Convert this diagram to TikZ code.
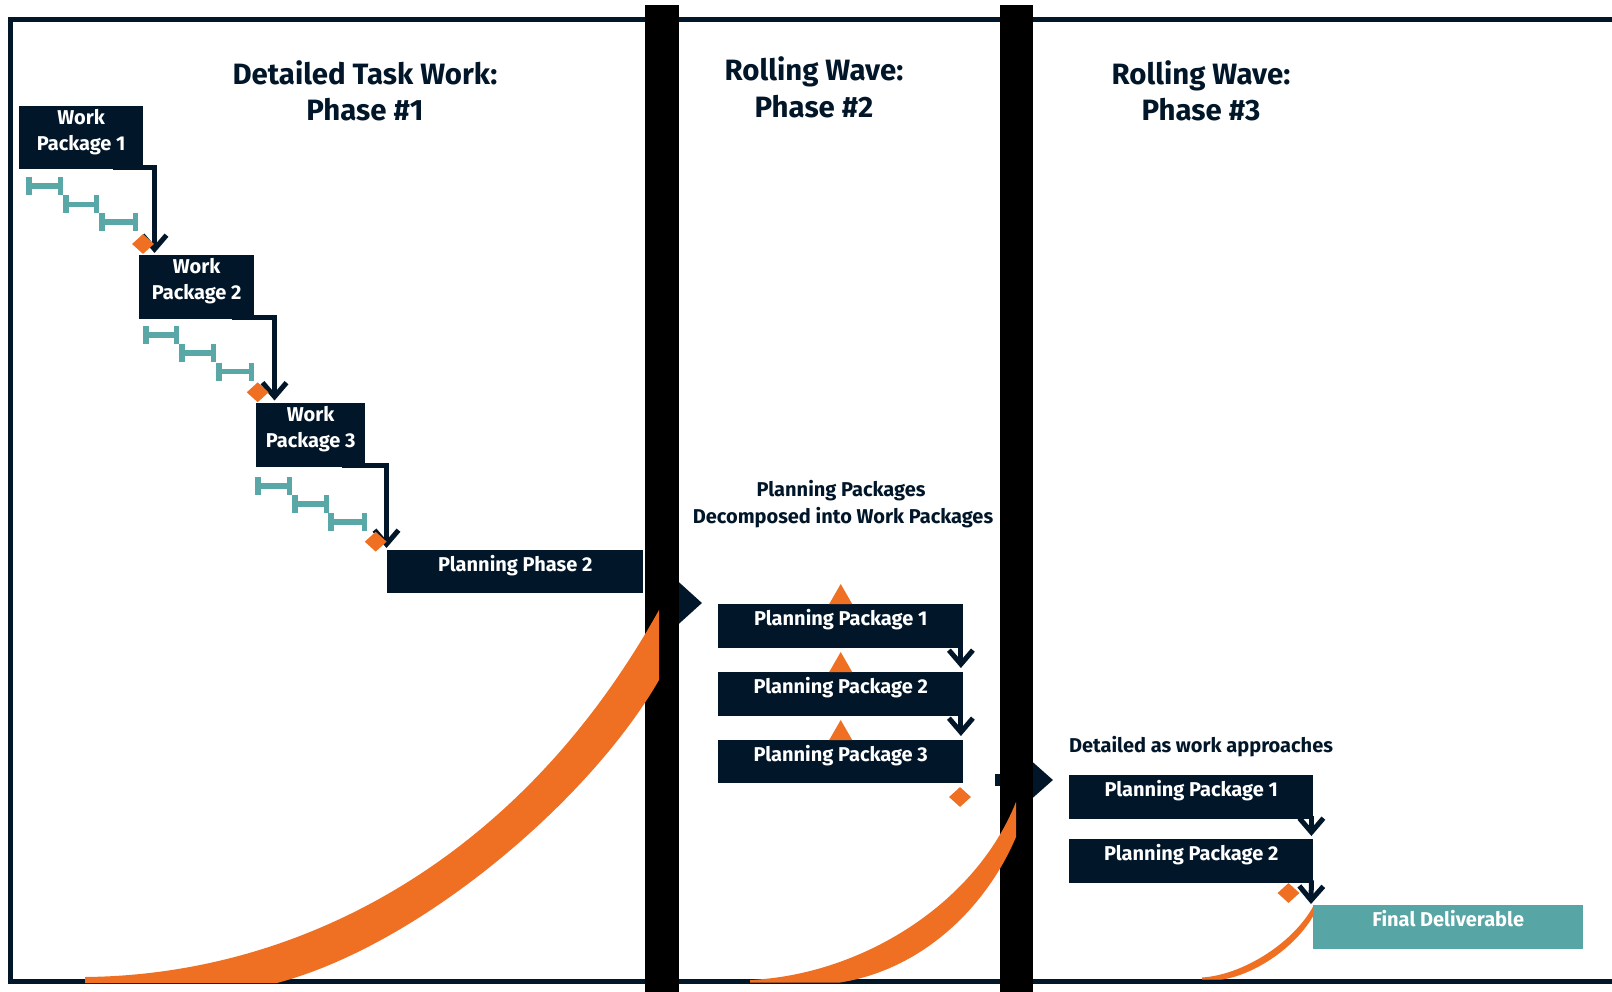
\documentclass[tikz,border=0pt]{standalone}
\usepackage{fontspec}
\setmainfont{Fira Sans}
\usetikzlibrary{arrows.meta,shapes.geometric}
\definecolor{navy}{RGB}{1,22,41}
\definecolor{flame}{RGB}{239,112,35}
\definecolor{ganttc}{RGB}{90,167,167}
\definecolor{deliver}{RGB}{87,165,165}
\newcommand\bxfont{\fontsize{20}{26}\selectfont\bfseries}
\newcommand\hdfont{\fontsize{29.4}{36}\selectfont\bfseries}
\pgfdeclarelayer{back}
\pgfsetlayers{back,main}
\begin{document}
\begin{tikzpicture}[x=1pt,y=-1pt,
  navybox/.style={fill=navy, text=white, inner sep=0pt, anchor=north west, font=\bxfont},
  heading/.style={text=navy, font=\hdfont, inner sep=0pt, anchor=base},
  note/.style={text=navy, font=\bxfont, inner sep=0pt, anchor=base},
  conn/.style={draw=navy, line width=5pt, -{Straight Barb[length=14pt,width=24pt]}},
  mile/.style={diamond, fill=flame, inner sep=0pt, minimum width=22pt, minimum height=20pt},
  gantt/.style={draw=ganttc, line width=5.5pt},
  sidearrow/.style={draw=navy, line width=12pt}]
\useasboundingbox (0,0) rectangle (1612,992);

% ---------- boxes ----------
\node[navybox, minimum width=124pt, text height=18.3pt, text depth=44.7pt] (wp1) at (19,106)
  {\begin{tabular}[t]{@{}c@{}}Work\\Package 1\end{tabular}};
\node[navybox, minimum width=115pt, text height=18.3pt, text depth=45.7pt] (wp2) at (139,255)
  {\begin{tabular}[t]{@{}c@{}}Work\\Package 2\end{tabular}};
\node[navybox, minimum width=109pt, text height=18.3pt, text depth=45.7pt] (wp3) at (256,403)
  {\begin{tabular}[t]{@{}c@{}}Work\\Package 3\end{tabular}};
\node[navybox, minimum width=256pt, text height=21.7pt, text depth=21.3pt] (ph2) at (387,550) {Planning Phase 2};

\node[navybox, minimum width=245pt, text height=21.7pt, text depth=22.3pt] (pp1) at (718,604) {Planning Package 1};
\node[navybox, minimum width=245pt, text height=21.7pt, text depth=22.3pt] (pp2) at (718,672) {Planning Package 2};
\node[navybox, minimum width=245pt, text height=21.7pt, text depth=21.3pt] (pp3) at (718,740) {Planning Package 3};

\node[navybox, minimum width=244pt, text height=21.7pt, text depth=22.3pt] (rp1) at (1069,775) {Planning Package 1};
\node[navybox, minimum width=244pt, text height=21.7pt, text depth=22.3pt] (rp2) at (1069,839) {Planning Package 2};
\node[navybox, fill=deliver, minimum width=270pt, text height=21.7pt, text depth=22.3pt] (fin) at (1313,905) {Final Deliverable};

% ---------- headings and notes ----------
\node[heading] (h1a) at (365,85) {Detailed Task Work:};
\node[heading] (h1b) at (365,121) {Phase \#1};
\node[heading] (h2a) at (814,81) {Rolling Wave:};
\node[heading] (h2b) at (814,118) {Phase \#2};
\node[heading] (h3a) at (1201,85) {Rolling Wave:};
\node[heading] (h3b) at (1201,121) {Phase \#3};
\node[note] (n1a) at (841,496) {Planning Packages};
\node[note] (n1b) at (843,523) {Decomposed into Work Packages};
\node[note] (n2) at (1201,752) {Detailed as work approaches};

% ---------- milestones ----------
\node[mile] (m1) at (143,244) {};
\node[mile] (m2) at (257.7,392.3) {};
\node[mile] (m3) at (375.7,541.7) {};
\node[mile] (m4) at (960,797) {};
\node[mile] (m5) at (1288.5,893) {};

% ---------- orange markers on the planning packages ----------
\foreach \p in {pp1,pp2,pp3}
  \fill[flame] ([xshift=-11.5pt]\p.north) -- ([yshift=20pt]\p.north) -- ([xshift=11.5pt]\p.north) -- cycle;

\begin{pgfonlayer}{back}
  \fill[white] (0,0) rectangle (1612,992);
  % outer frame
  \draw[navy, line width=4.7pt] (1620,19.6) -- (10.5,19.6) -- (10.5,981.5) -- (1620,981.5);
  % hand-over arrows behind the phase dividers
  \coordinate (a1s) at (655,603);
  \coordinate (a1e) at (702,603);
  \coordinate (a2s) at (995,780);
  \coordinate (a2e) at (1053,780);
  \draw[sidearrow, -{Triangle[length=23pt,width=40pt]}] (a1s) -- (a1e);
  \draw[sidearrow, -{Triangle[length=20pt,width=34pt]}] (a2s) -- (a2e);
  % phase dividers
  \fill[black] (645,5) rectangle (679,995);
  \fill[black] (1000,5) rectangle (1033,995);
  % progress curves
  \fill[flame] (85,977) .. controls (300,975) and (520,860) .. (659,610)
     -- (659,680) .. controls (590,800) and (420,945) .. (277,983) -- (85,983) -- cycle;
  \fill[flame] (750,980) .. controls (860,975) and (975,905) .. (1016,802)
     -- (1016,837) .. controls (985,910) and (920,970) .. (840,982.5) -- (750,982.5) -- cycle;
  \fill[flame] (1202,977.5) .. controls (1242,975) and (1293,944) .. (1314,905)
     -- (1317,909) .. controls (1298,948) and (1252,975.5) .. (1222,979.5) -- (1202,979.5) -- cycle;
  % task bars
  \foreach \a/\b/\c in {26/63/186, 63/99/204.5, 99/138/222,
                        143/179/335, 179/216/353, 216/254/371.5,
                        255/292/486, 292/329/504, 328/367/522}
    \draw[gantt] (\a+2.75,\c-9) -- (\a+2.75,\c+9) (\a+2.75,\c) -- (\b-2.75,\c)
                 (\b-2.75,\c-9) -- (\b-2.75,\c+9);
  % dependencies
  \draw[conn] ([xshift=-30pt,yshift=1.5pt]wp1.south east) -| ([xshift=15.5pt,yshift=2pt]wp2.north west);
  \draw[conn] ([xshift=-22pt,yshift=1.5pt]wp2.south east) -| ([xshift=18.5pt,yshift=2.5pt]wp3.north west);
  \draw[conn] ([xshift=-23pt,yshift=1.5pt]wp3.south east) -| ([xshift=-0.5pt,yshift=2pt]ph2.north west);
  \draw[conn] ([xshift=-2.5pt,yshift=3pt]pp1.south east) -- ([xshift=-2.5pt,yshift=4pt]pp2.north east);
  \draw[conn] ([xshift=-2.5pt,yshift=3pt]pp2.south east) -- ([xshift=-2.5pt,yshift=4pt]pp3.north east);
  \draw[conn] ([xshift=-2pt,yshift=3pt]rp1.south east) -- ([xshift=-2pt,yshift=3pt]rp2.north east);
  \draw[conn] ([xshift=-2pt,yshift=3pt]rp2.south east) -- ([xshift=-2pt,yshift=1pt]fin.north west);
\end{pgfonlayer}
\end{tikzpicture}
\end{document}
